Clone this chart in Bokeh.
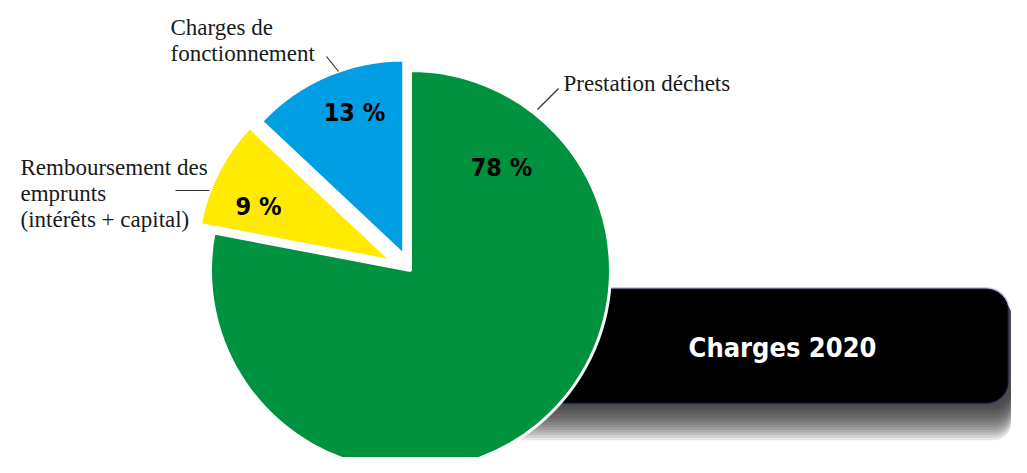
import math
from bokeh.plotting import figure
from bokeh.models import Range1d, BoxAnnotation
from bokeh.core.properties import value
from bokeh.embed import file_html
from bokeh.resources import INLINE

# ---- data ----
categories = ["Prestation déchets", "Remboursement des emprunts (intérêts + capital)", "Charges de fonctionnement"]
shares = [78, 9, 13]
pct_labels = ["78 %", "9 %", "13 %"]
colors = ["#00923f", "#ffea00", "#009fe3"]
title_text = "Charges 2020"

# label texts (multi-line)
name_lines = [["Prestation déchets"],
              ["Remboursement des", "emprunts", "(intérêts + capital)"],
              ["Charges de", "fonctionnement"]]

W, H = 1011, 457
TOP = 473  # screen -> data: Y = TOP - screen_y

p = figure(width=W, height=H, output_backend="svg", toolbar_location=None,
           x_range=Range1d(0, W), y_range=Range1d(TOP - H, TOP),
           x_axis_type=None, y_axis_type=None, min_border=0)
p.outline_line_color = None
p.grid.visible = False
p.background_fill_color = "white"
p.border_fill_color = "white"

def Y(sy):
    return TOP - sy

COND = value("DejaVu Sans Condensed")

# ---- black title box with shadow ----
box_l, box_r, box_t, box_b = 450, 1008, 288, 403
for i in range(14):
    p.add_layout(BoxAnnotation(left=box_l, right=box_r + 3, top=Y(box_t + 10),
                               bottom=Y(box_b + 3 + i * 2.6), fill_color="#222222",
                               fill_alpha=0.11, line_color=None, level="underlay",
                               border_radius=18))
p.add_layout(BoxAnnotation(left=box_l, right=box_r, top=Y(box_t), bottom=Y(box_b),
                           fill_color="black", fill_alpha=1, line_color="#2b3a8c",
                           line_width=2.5, level="underlay", border_radius=22))
p.text(x=[782], y=[Y(347)], text=[title_text], text_color="white",
       text_font=COND, text_font_style="bold",
       text_font_size="27px", text_align="center", text_baseline="middle")

# ---- pie ----
cx, cy = 410, Y(270)
explode = [0, 21, 17]
radii = [200, 195, 195]
start = 90.0
total = float(sum(shares))
for v, col, ex, r in zip(shares, colors, explode, radii):
    sweep = 360.0 * v / total
    end_deg = start            # clockwise from top
    start_deg = start - sweep
    mid = math.radians((start_deg + end_deg) / 2)
    ox, oy = cx + ex * math.cos(mid), cy + ex * math.sin(mid)
    p.wedge(x=[ox], y=[oy], radius=r, start_angle=math.radians(start_deg),
            end_angle=math.radians(end_deg), fill_color=col, line_color="white",
            line_width=3)
    start = start_deg

# ---- percent labels ----
pct_x = [501, 258, 354]
pct_y = [167, 206, 112]
p.text(x=pct_x, y=[Y(v) for v in pct_y], text=pct_labels, text_color="black",
       text_font=COND, text_font_style="bold",
       text_font_size="25px", text_align="center", text_baseline="alphabetic")

# ---- category labels ----
lab_x = [563, 20, 170]
lab_y0 = [83, 167, 27]
line_h = 26
xs, ys, ts = [], [], []
for lines, lx, ly in zip(name_lines, lab_x, lab_y0):
    for k, t in enumerate(lines):
        xs.append(lx); ys.append(Y(ly + k * line_h)); ts.append(t)
p.text(x=xs, y=ys, text=ts, text_color="#1a1a1a", text_font=value("Liberation Serif"),
       text_font_size="23px", text_align="left", text_baseline="alphabetic")

# leader lines
p.segment(x0=[558, 175, 326], y0=[Y(88), Y(190), Y(56)],
          x1=[537, 209, 338], y1=[Y(109), Y(190), Y(71)],
          line_color="#333333", line_width=1.2)

open("out.html", "w").write(file_html(p, INLINE))
